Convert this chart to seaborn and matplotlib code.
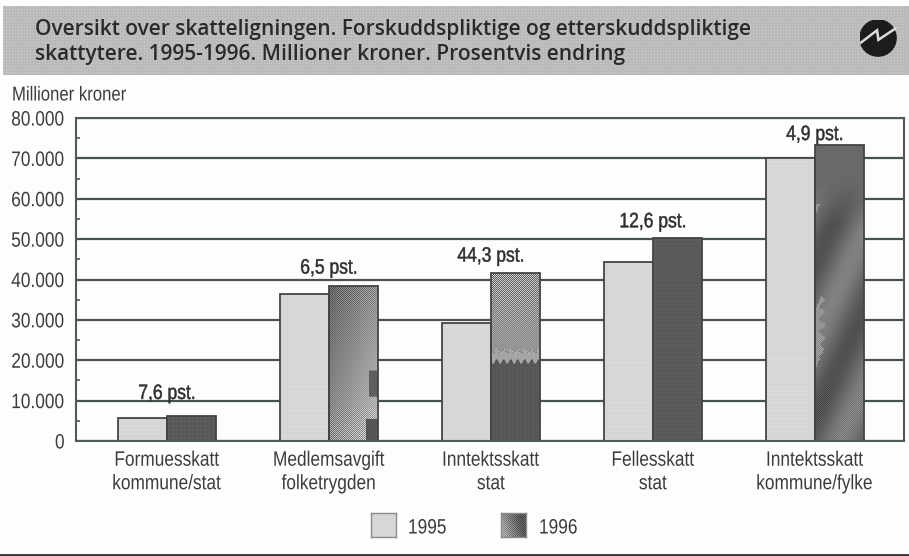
import matplotlib
matplotlib.use("Agg")
import matplotlib.pyplot as plt
import matplotlib.patches as mp
from matplotlib.lines import Line2D
from matplotlib.patheffects import AbstractPathEffect
from matplotlib.transforms import Affine2D
import numpy as np
import pandas as pd
import seaborn as sns

categories = ["Formuesskatt\nkommune/stat", "Medlemsavgift\nfolketrygden", "Inntektsskatt\nstat", "Fellesskatt\nstat", "Inntektsskatt\nkommune/fylke"]
years = ["1995", "1996"]
values_1995 = [5800, 36300, 29200, 44300, 70000]
values_1996 = [6200, 38500, 41700, 50200, 73300]
changes = ["7,6 pst.", "6,5 pst.", "44,3 pst.", "12,6 pst.", "4,9 pst."]
yticks = [0, 10000, 20000, 30000, 40000, 50000, 60000, 70000, 80000]
ylabels = ["0", "10.000", "20.000", "30.000", "40.000", "50.000", "60.000", "70.000", "80.000"]
title = "Oversikt over skatteligningen. Forskuddspliktige og etterskuddspliktige\nskattytere. 1995-1996. Millioner kroner. Prosentvis endring"

W, H = 909, 556
TEXT = "#3c3c3c"


class Squeeze(AbstractPathEffect):
    """Condense real text horizontally (the reference uses a narrow face)."""
    def __init__(self, sx=0.83, anchor="center", stroke=0.0):
        super().__init__()
        self.sx, self.anchor, self.stroke = sx, anchor, stroke

    def draw_path(self, renderer, gc, tpath, affine, rgbFace=None):
        w = tpath.get_extents().x1
        cx = {"left": 0, "center": w / 2, "right": w}[self.anchor]
        t = Affine2D().translate(-cx, 0).scale(self.sx, 1).translate(cx, 0) + affine
        gc0 = renderer.new_gc()
        gc0.copy_properties(gc)
        if self.stroke:
            gc0.set_linewidth(self.stroke)
            gc0.set_foreground(rgbFace)
        renderer.draw_path(gc0, tpath, t, rgbFace)
        gc0.restore()


def dots(h, w, base, light, step=4):
    a = np.full((h, w), float(base))
    a[::step, ::step] = light
    return a


def checker(h, w):
    yy, xx = np.mgrid[0:h, 0:w]
    return ((xx + yy) % 2) * 2.0 - 1.0


def texture_1996(i, h, w):
    yy, xx = np.mgrid[0:h, 0:w]
    u = xx / max(w - 1, 1)
    v = yy / max(h - 1, 1)          # 0 at top
    if i == 1:
        tone = 100 + 45 * u + 45 * v
        amp = 30 + 15 * v
        a = tone + amp * checker(h, w)
        a[(u > 0.82) & (v > 0.55) & (v < 0.72)] = 95
        a[(u > 0.76) & (v > 0.86)] = 85
        return a
    if i == 2:
        split = 0.53 + 0.015 * np.sin(xx * 0.9)
        a = 150 + 65 * checker(h, w)
        a = np.where(v > split, dots(h, w, 88, 70, 4), a)
        a[(v > split - 0.06) & (v <= split)] = 165
        return a
    if i == 4:
        band = np.sin((u * 0.35 + v) * 12.0)
        weight = np.clip((v - 0.12) / 0.15, 0, 1)
        a = 105 + weight * (24 * band + 14 * band * checker(h, w))
        edge = (u < 0.14 + 0.06 * np.sin(yy * 0.5)) & (band > 0.35) & (v > 0.2) & (v < 0.9)
        a = np.where(edge, 150 + 40 * checker(h, w), a)
        return a
    return dots(h, w, 92, 72, 4)


sns.set_theme(style="white")
plt.rcParams["font.family"] = ["Liberation Sans", "DejaVu Sans"]
fig = plt.figure(figsize=(W / 100, H / 100), dpi=100, facecolor="#fdfdfd")
ax = fig.add_axes([76 / W, 1 - 441 / H, (904 - 76) / W, (441 - 118) / H])
ax.set_facecolor("#fdfdfd")

df = pd.DataFrame({
    "cat": categories * 2,
    "year": [years[0]] * 5 + [years[1]] * 5,
    "value": values_1995 + values_1996,
})
sns.barplot(data=df, x="cat", y="value", hue="year", order=categories, hue_order=years,
            palette=["#d6d6d6", "#666666"], width=0.6, gap=0, saturation=1,
            edgecolor="#444444", linewidth=1.3, legend=False, ax=ax)

for k, cont in enumerate(ax.containers):
    for i, patch in enumerate(cont):
        x0, y0, bw, bh = patch.get_x(), patch.get_y(), patch.get_width(), patch.get_height()
        px_w, px_h = 49, max(int(bh / 80000 * 323), 2)
        arr = dots(px_h, px_w, 214, 232, 4) if k == 0 else texture_1996(i, px_h, px_w)
        im = ax.imshow(arr, extent=(x0, x0 + bw, y0, y0 + bh), aspect="auto", cmap="gray",
                       vmin=0, vmax=255, interpolation="bilinear", zorder=3)
        im.set_clip_path(patch)
        patch.set_facecolor("none")
        patch.set_zorder(4)

ax.set_xlim(-0.562, 4.55)
ax.set_ylim(0, 80000)
ax.set_xlabel("")
ax.set_ylabel("")
ax.set_yticks(yticks, ylabels, fontsize=15, color=TEXT)
ax.set_yticks([v + 5000 for v in yticks[:-1]], minor=True)
ax.tick_params(axis="y", which="major", length=0, pad=8)
ax.tick_params(axis="y", which="minor", left=True, direction="in", length=3, width=1.2, color="#555555")
ax.tick_params(axis="x", length=0, pad=7, labelsize=15, labelcolor=TEXT)
for t in ax.get_yticklabels():
    t.set_path_effects([Squeeze(0.83, "right")])
for t in ax.get_xticklabels():
    t.set_path_effects([Squeeze(0.83, "center")])
    t.set_linespacing(1.3)
ax.yaxis.grid(True, which="major", color="#46534e", linewidth=1.6, zorder=1)
ax.set_axisbelow(True)
for s in ax.spines.values():
    s.set_color("#505a56")
    s.set_linewidth(1.5)
    s.set_visible(True)
    s.set_zorder(5)

label_gap_px = [13, 8, 7, 7, 1]
for i, lab in enumerate(changes):
    top = max(values_1995[i], values_1996[i])
    ax.annotate(lab, (i, top), xytext=(0, label_gap_px[i] * 0.72), textcoords="offset points",
                ha="center", va="bottom", fontsize=15, color="#2e2e2e", zorder=6,
                annotation_clip=False,
                path_effects=[Squeeze(0.84, "center", stroke=0.35)])

# Header band with a fine print screen
band = fig.add_axes([3 / W, 1 - 75 / H, (W - 3) / W, 69 / H], zorder=-1)
band.axis("off")
band.imshow(dots(69, W - 3, 186, 206, 3), aspect="auto", cmap="gray", vmin=0, vmax=255,
            interpolation="bilinear")
fig.text(35 / W, 1 - 42 / H, title, fontsize=15, fontweight="semibold", family="Open Sans",
         color="#2a2a2a", va="center", ha="left", linespacing=1.27, zorder=3)

# Header icon
icon = fig.add_axes([859.5 / W, 1 - 56.5 / H, 37 / W, 37 / H], zorder=2)
icon.axis("off")
icon.set_xlim(-1, 1)
icon.set_ylim(-1, 1)
icon.add_patch(mp.Circle((0, 0), 0.98, color="#1c1c1c"))
icon.plot([-0.95, -0.05, 0.02, 0.95], [-0.27, 0.42, -0.1, 0.52], color="#dcdcdc", lw=1.8,
          solid_joinstyle="miter")

fig.text(12 / W, 1 - 95 / H, "Millioner kroner", fontsize=14.5, color=TEXT, va="center",
         path_effects=[Squeeze(0.83, "left")], zorder=3)

# Legend
for x0, kind, lab, tx in [(371, 0, years[0], 408), (501, 1, years[1], 539)]:
    sw = fig.add_axes([x0 / W, 1 - 537 / H, 25 / W, 24 / H], zorder=1)
    sw.set_xticks([])
    sw.set_yticks([])
    if kind == 0:
        arr = dots(24, 25, 214, 226, 4)
    else:
        yy, xx = np.mgrid[0:24, 0:25]
        arr = 85 + 90 * np.clip(1 - xx / 24 + (yy / 23 - 1) * 0.3, 0, 1) + 25 * checker(24, 25)
    sw.imshow(arr, aspect="auto", cmap="gray", vmin=0, vmax=255, interpolation="bilinear")
    for s in sw.spines.values():
        s.set_color("#8a8a8a")
        s.set_linewidth(1)
    fig.text(tx / W, 1 - 528 / H, lab, fontsize=15, color=TEXT, va="center",
             path_effects=[Squeeze(0.83, "left")], zorder=3)

fig.add_artist(Line2D([0, 1], [1 - 555 / H] * 2, color="#333333", linewidth=2, transform=fig.transFigure))
fig.savefig("out.png", dpi=100, facecolor=fig.get_facecolor())
